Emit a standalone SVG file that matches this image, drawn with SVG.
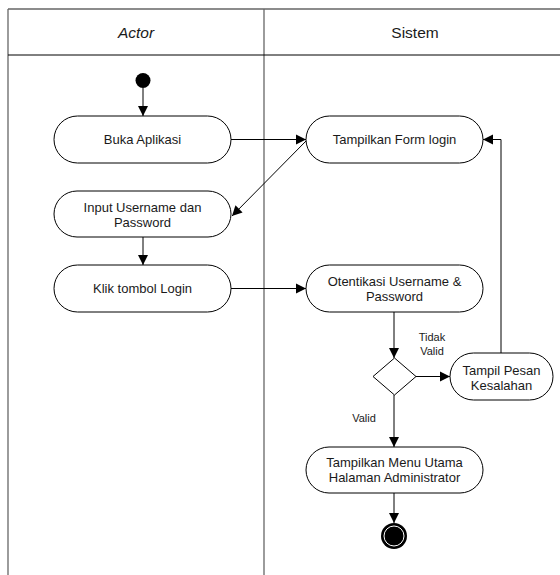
<svg xmlns="http://www.w3.org/2000/svg" width="560" height="575" viewBox="0 0 560 575">
<style>
.lane{stroke:#666;stroke-width:1.3;fill:none}
.hdr{stroke:#000;stroke-width:1;fill:none}
.node{fill:#fff;stroke:#000;stroke-width:1}
.t{font-family:"Liberation Sans",Arial,sans-serif;font-size:13px;fill:#1a1a1a;text-anchor:middle}
.h{font-family:"Liberation Sans",Arial,sans-serif;font-size:15.5px;fill:#1a1a1a;text-anchor:middle}
.lbl{font-family:"Liberation Sans",Arial,sans-serif;font-size:11px;fill:#1a1a1a;text-anchor:middle}
.c{stroke:#000;stroke-width:1;fill:none;marker-end:url(#arr)}
</style>
<defs>
<marker id="arr" markerUnits="userSpaceOnUse" markerWidth="12" markerHeight="12" viewBox="0 0 12 12" refX="11" refY="6" orient="auto">
<path d="M1,1 L11,6 L1,11 Z" fill="#000"/>
</marker>
</defs>
<rect width="560" height="575" fill="#fff"/>
<g id="lanes">
<line class="lane" x1="8" y1="9" x2="560" y2="9"/>
<line class="lane" x1="8" y1="9" x2="8" y2="575"/>
<line class="lane" x1="264" y1="9" x2="264" y2="575"/>
<line class="hdr" x1="8" y1="55" x2="560" y2="55"/>
<text class="h" x="136" y="37.5" font-style="italic">Actor</text>
<text class="h" x="415" y="37.5">Sistem</text>
</g>
<g id="connectors">
<line class="c" x1="143" y1="88" x2="143" y2="116"/>
<line class="c" x1="231" y1="139.5" x2="306" y2="139.5"/>
<line class="c" x1="306" y1="141" x2="232" y2="216"/>
<line class="c" x1="143" y1="237" x2="143" y2="265"/>
<line class="c" x1="231" y1="288.5" x2="306" y2="288.5"/>
<line class="c" x1="394" y1="312" x2="394" y2="358"/>
<line class="c" x1="416" y1="376.5" x2="450" y2="376.5"/>
<polyline class="c" points="501,353 501,139.5 483,139.5"/>
<line class="c" x1="394" y1="395" x2="394" y2="447"/>
<line class="c" x1="394" y1="493" x2="394" y2="523"/>
<text class="lbl" x="432" y="341">Tidak</text>
<text class="lbl" x="432" y="355">Valid</text>
<text class="lbl" x="364" y="422">Valid</text>
</g>
<g id="start"><circle cx="143" cy="80.5" r="7.5" fill="#000"/></g>
<g id="buka"><rect class="node" x="54" y="116" width="177" height="47" rx="23.5"/><text class="t" x="142.5" y="144">Buka Aplikasi</text></g>
<g id="input"><rect class="node" x="54" y="191" width="177" height="46" rx="23"/><text class="t" x="142.5" y="211.5">Input Username dan</text><text class="t" x="142.5" y="226.5">Password</text></g>
<g id="klik"><rect class="node" x="54" y="265" width="177" height="47" rx="23.5"/><text class="t" x="142.5" y="293">Klik tombol Login</text></g>
<g id="form"><rect class="node" x="306" y="116" width="177" height="47" rx="23.5"/><text class="t" x="394.5" y="144">Tampilkan Form login</text></g>
<g id="otentikasi"><rect class="node" x="306" y="265" width="177" height="47" rx="23.5"/><text class="t" x="394.5" y="286">Otentikasi Username &amp;</text><text class="t" x="394.5" y="301">Password</text></g>
<g id="decision"><polygon class="node" points="394.5,358 416,376.5 394.5,395 373,376.5"/></g>
<g id="pesan"><rect class="node" x="450" y="353" width="103" height="47" rx="23.5"/><text class="t" x="501.5" y="374.5">Tampil Pesan</text><text class="t" x="501.5" y="389.5">Kesalahan</text></g>
<g id="menu"><rect class="node" x="306" y="447" width="177" height="46" rx="23"/><text class="t" x="394.5" y="466.5">Tampilkan Menu Utama</text><text class="t" x="394.5" y="481.5">Halaman Administrator</text></g>
<g id="end"><circle cx="394" cy="536" r="13" fill="#000"/><circle cx="394" cy="536" r="10" fill="none" stroke="#fff" stroke-width="1"/></g>
</svg>
